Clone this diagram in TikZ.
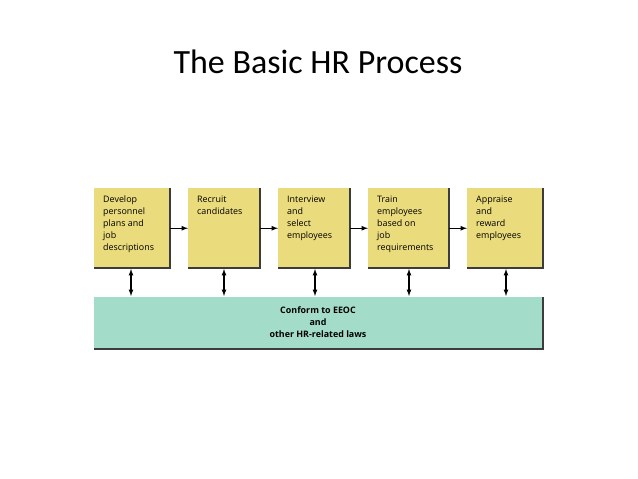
\documentclass[tikz,border=0pt]{standalone}
\usepackage{fontspec}
\setmainfont{Carlito}
\newfontfamily\boxfont{Open Sans}
\definecolor{stepyellow}{RGB}{234,219,124}
\definecolor{lawgreen}{RGB}{163,221,201}
\definecolor{edgegrey}{RGB}{60,60,60}
\begin{document}
\begin{tikzpicture}[x=0.03cm,y=-0.03cm,>=latex]
\tikzset{
  stepbox/.style={fill=stepyellow, minimum height=2.4cm, inner sep=0pt},
  steptext/.style={font=\boxfont\fontsize{7.6}{10.2}\selectfont, align=left, anchor=north west, inner sep=0pt},
}
\useasboundingbox (0,0) rectangle (638,479);
% Title
\node (title) at (318,62) {\fontsize{29}{34}\selectfont The Basic HR Process};

% Process steps: left/right/label
\foreach \i/\l/\r/\txt in {1/94/170/{Develop\\personnel\\plans and\\job\\descriptions},
                           2/188/260/{Recruit\\candidates},
                           3/278/350/{Interview\\and\\select\\employees},
                           4/368/449/{Train\\employees\\based on\\job\\requirements},
                           5/467/543/{Appraise\\and\\reward\\employees}} {
  \fill[stepyellow] (\l,188) rectangle (\r,268);
  \coordinate (s\i) at (\l,188);
  \node[minimum width={(\r-\l)*0.03cm}, minimum height=2.4cm, inner sep=0pt, anchor=north west] (step\i) at (\l,188) {};
  \draw[edgegrey, line width=1.2pt] (\r,188) -- (\r,268) -- (\l,268);
  \node[steptext] at (\l+9,196) {\txt};
}

% Law bar
\fill[lawgreen] (94,297) rectangle (543,349);
\node[minimum width=13.47cm, minimum height=1.56cm, inner sep=0pt, anchor=north west] (laws) at (94,297) {};
\draw[edgegrey, line width=1.2pt] (543,297) -- (543,349) -- (94,349);
\node[font=\boxfont\bfseries\fontsize{7.6}{10.2}\selectfont, align=center] (lawtext) at (318,322)
  {Conform to EEOC\\and\\other HR-related laws};

% Horizontal arrows
\foreach \a/\b in {1/2,2/3,3/4,4/5}
  \draw[->, line width=0.9pt] (step\a.east) -- (step\b.west);

% Vertical double arrows
\foreach \i/\x in {1/131,2/224,3/315,4/409,5/506}
  \draw[<->, line width=0.9pt] (\x,269) -- (\x,296);
\end{tikzpicture}
\end{document}
